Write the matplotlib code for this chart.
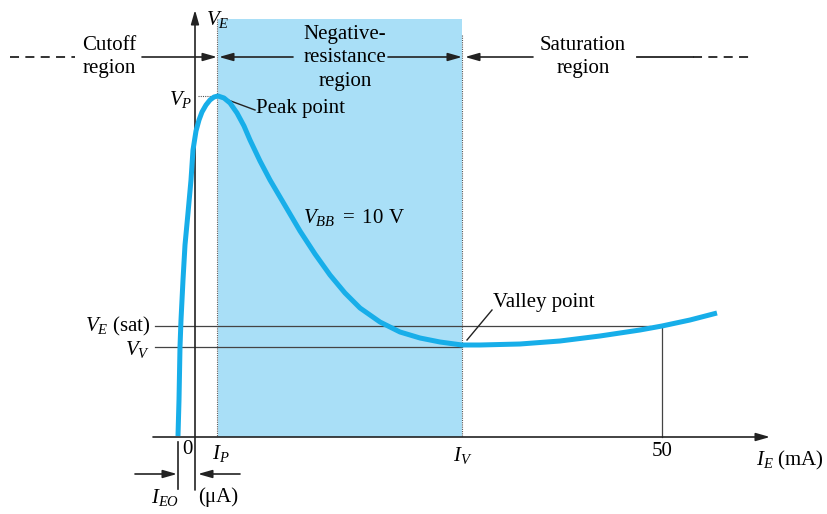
import numpy as np
import matplotlib
matplotlib.use("Agg")
import matplotlib.pyplot as plt
from matplotlib.patches import Rectangle

plt.rcParams['font.family'] = ['Liberation Serif', 'DejaVu Serif']
plt.rcParams['mathtext.fontset'] = 'custom'
plt.rcParams['mathtext.rm'] = 'Liberation Serif'
plt.rcParams['mathtext.it'] = 'Liberation Serif:italic'

# diagram coordinates (pixel-like units, y grows downward)
curve_x = [178, 179, 180, 181, 183, 185, 188, 191, 193, 196, 199, 202, 206, 210, 214, 218,
           224, 230, 237, 244, 250, 260, 270, 280, 290, 300, 315, 330, 345, 360, 380, 400,
           420, 440, 462, 480, 520, 560, 600, 640, 662, 690, 717]
curve_y = [436, 400, 347, 320, 280, 245, 213, 180, 150, 131, 120, 112, 105, 100, 97, 96,
           98, 103, 113, 126, 140, 161, 180, 197, 214, 231, 254, 275, 293, 308, 322, 332,
           338, 342, 345, 345, 344, 341, 336, 330, 326, 320, 313]

I_P, I_V, I_50 = 217, 462, 662
V_P, V_SAT, V_V = 96, 326, 347
Y_AXIS_X, X_AXIS_Y = 195, 437
I_EO_X = 178
shade = (218, 462, 19, 437)
region_y = 57

SHADE = '#a9dff7'
CURVE = '#17aee9'
FS = 15

fig = plt.figure(figsize=(8.27, 5.14), dpi=100)
ax = fig.add_axes([0, 0, 1, 1])
ax.set_xlim(0, 827)
ax.set_ylim(514, 0)
ax.axis('off')

# negative resistance shading
ax.add_patch(Rectangle((shade[0], shade[2]), shade[1] - shade[0], shade[3] - shade[2],
                       facecolor=SHADE, edgecolor='none', zorder=0))

# reference lines
ax.plot([I_P, I_P], [shade[2], X_AXIS_Y], color='#555', lw=0.8, ls=(0, (1, 1)), zorder=1)
ax.plot([I_V, I_V], [35, X_AXIS_Y], color='#555', lw=0.8, ls=(0, (1, 1)), zorder=1)
ax.plot([198, I_P], [V_P, V_P], color='#555', lw=0.8, ls=(0, (1, 1)), zorder=1)
ax.plot([155, 650], [V_SAT, V_SAT], color='#444', lw=0.9, zorder=1)
ax.plot([155, I_V], [V_V, V_V], color='#444', lw=0.9, zorder=1)
ax.plot([I_50, I_50], [V_SAT + 1, X_AXIS_Y], color='#444', lw=0.9, zorder=1)

# axes with arrows
arrow = dict(arrowstyle='-|>,head_length=0.7,head_width=0.2', color='#222', lw=1.2,
             shrinkA=0, shrinkB=0, mutation_scale=12)
ax.annotate('', xy=(770, X_AXIS_Y), xytext=(153, X_AXIS_Y), arrowprops=arrow, zorder=3)
ax.annotate('', xy=(Y_AXIS_X, 10), xytext=(Y_AXIS_X, 490), arrowprops=arrow, zorder=3)

# characteristic curve
ax.plot(curve_x, curve_y, color=CURVE, lw=3.6, solid_capstyle='butt', solid_joinstyle='round',
        zorder=4)

# region bar on top
line_kw = dict(color='#222', lw=1.3)
ax.plot([10, 75], [region_y, region_y], ls=(0, (5, 3.5)), **line_kw)
ax.plot([693, 750], [region_y, region_y], ls=(0, (5, 3.5)), **line_kw)
ax.plot([637, 693], [region_y, region_y], **line_kw)
ax.annotate('', xy=(I_P, region_y), xytext=(142, region_y), arrowprops=arrow)
ax.annotate('', xy=(I_P + 2, region_y), xytext=(293, region_y), arrowprops=arrow)
ax.annotate('', xy=(I_V, region_y), xytext=(388, region_y), arrowprops=arrow)
ax.annotate('', xy=(I_V + 3, region_y), xytext=(533, region_y), arrowprops=arrow)

ax.text(109, 57, 'Cutoff\nregion', ha='center', va='center', fontsize=FS, linespacing=1.3)
ax.text(345, 58, 'Negative-\nresistance\nregion', ha='center', va='center', fontsize=FS,
        linespacing=1.35)
ax.text(583, 57, 'Saturation\nregion', ha='center', va='center', fontsize=FS, linespacing=1.3)

# labels
ax.text(206, 20, r'$V_E$', ha='left', va='center', fontsize=FS)
ax.text(192, 100, r'$V_P$', ha='right', va='center', fontsize=FS)
ax.text(151, 326, r'$V_E$ (sat)', ha='right', va='center', fontsize=FS)
ax.text(150, 350, r'$V_V$', ha='right', va='center', fontsize=FS)
ax.text(303, 217, r'$V_{BB}\ =\ 10$ V', ha='left', va='center', fontsize=FS)

ax.plot([220, 255], [97, 110], color='#222', lw=1.0)
ax.text(256, 108, 'Peak point', ha='left', va='center', fontsize=FS)
ax.plot([467, 492], [340, 310], color='#222', lw=1.0)
ax.text(493, 303, 'Valley point', ha='left', va='center', fontsize=FS)

ax.text(187, 449, '0', ha='center', va='center', fontsize=FS)
ax.text(221, 454, r'$I_P$', ha='center', va='center', fontsize=FS)
ax.text(463, 455, r'$I_V$', ha='center', va='center', fontsize=FS)
ax.text(662, 451, '50', ha='center', va='center', fontsize=FS)
ax.text(756, 460, r'$I_E$ (mA)', ha='left', va='center', fontsize=FS)

# I_EO marker
ax.plot([I_EO_X, I_EO_X], [442, 489], color='#222', lw=1.2)
ax.annotate('', xy=(I_EO_X - 1, 474), xytext=(135, 474), arrowprops=arrow)
ax.annotate('', xy=(Y_AXIS_X + 3, 474), xytext=(240, 474), arrowprops=arrow)
ax.text(165, 498, r'$I_{EO}$', ha='center', va='center', fontsize=FS)
ax.text(218, 497, '(μA)', ha='center', va='center', fontsize=FS)

fig.savefig('out.png', dpi=100)
